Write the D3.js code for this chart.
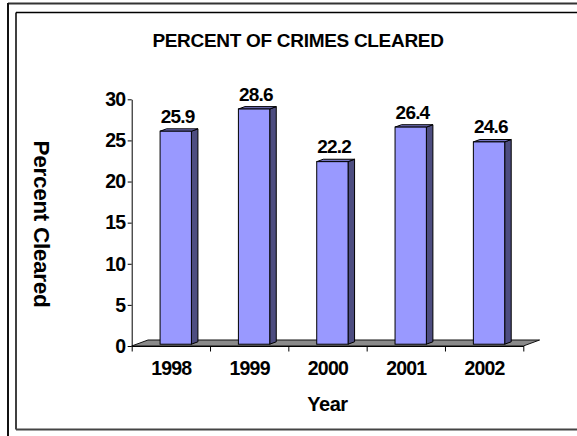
<!DOCTYPE html>
<html><head><meta charset="utf-8">
<script src="https://cdn.jsdelivr.net/npm/d3@7/dist/d3.min.js"></script>
<style>
html,body{margin:0;padding:0;background:#fff;}
svg{display:block;}
text{font-family:"Liberation Sans",Arial,sans-serif;font-weight:bold;fill:#000;}
</style></head>
<body>
<svg id="c" width="577" height="436"></svg>
<script>
const years = ["1998","1999","2000","2001","2002"];
const values = [25.9, 28.6, 22.2, 26.4, 24.6];
const yTicks = [0, 5, 10, 15, 20, 25, 30];
const titleText = "PERCENT OF CRIMES CLEARED";
const xTitle = "Year";
const yTitle = "Percent Cleared";

const svg = d3.select("#c");
const W = 577, H = 436;
const FONT = '"Liberation Sans",Arial,sans-serif';

// frames
svg.append("line").attr("x1",8).attr("y1",3.5).attr("x2",W).attr("y2",3.5).attr("stroke","#333").attr("stroke-width",2);
svg.append("line").attr("x1",8).attr("y1",3).attr("x2",8).attr("y2",H).attr("stroke","#111").attr("stroke-width",2);
svg.append("line").attr("x1",16).attr("y1",12.5).attr("x2",W).attr("y2",12.5).attr("stroke","#000").attr("stroke-width",1.5);
svg.append("line").attr("x1",16).attr("y1",12.5).attr("x2",16).attr("y2",429.5).attr("stroke","#000").attr("stroke-width",1.5);
svg.append("line").attr("x1",16).attr("y1",429.5).attr("x2",W).attr("y2",429.5).attr("stroke","#444").attr("stroke-width",2);

const x0 = 131.7, x1 = 523.3, yBase = 346, yTop = 99.3;
const depthX = 16.3, depthY = -6;

const x = d3.scaleBand().domain(years).range([x0, x1]).paddingInner(0).paddingOuter(0);
const y = d3.scaleLinear().domain([0, 30]).range([yBase, yTop]);

// floor
svg.append("path")
  .attr("d", `M${x0},${yBase}L${x1},${yBase}L${x1+depthX},${yBase+depthY}L${x0+depthX},${yBase+depthY}Z`)
  .attr("fill","#8a8a8a").attr("stroke","#111").attr("stroke-width",1);

// y axis
const yAxis = d3.axisLeft(y).tickValues(yTicks).tickSize(4).tickSizeOuter(0).tickPadding(1.5);
const gy = svg.append("g").attr("transform",`translate(${x0},0)`).call(yAxis);
gy.select(".domain").attr("stroke","#000");
gy.selectAll(".tick line").attr("stroke","#000");
gy.selectAll("text").style("font-size","19.5px").style("font-family",FONT).style("font-weight","bold")
  .style("letter-spacing","-0.8px").attr("dx","-0.8px").attr("fill","#000");

// x axis ticks at category boundaries
const xb = d3.scaleLinear().domain([0, years.length]).range([x0, x1]);
const gxt = svg.append("g").attr("transform",`translate(0,${yBase})`)
  .call(d3.axisBottom(xb).tickValues(d3.range(years.length+1)).tickSize(5.5).tickSizeOuter(0).tickFormat(""));
gxt.select(".domain").attr("stroke","#000");
gxt.selectAll(".tick line").attr("stroke","#000");

// x labels
const gx = svg.append("g").attr("transform",`translate(0,${yBase})`)
  .call(d3.axisBottom(x).tickSize(0).tickPadding(15));
gx.select(".domain").remove();
gx.selectAll("text").style("font-size","19.5px").style("font-family",FONT).style("font-weight","bold")
  .style("letter-spacing","-0.8px").attr("dx","0.4px").attr("fill","#000");

// bars (3D)
const bw = x.bandwidth() * 0.4;
const bdx = depthX * 0.4, bdy = depthY * 0.4;
const offX = depthX * 0.3, offY = depthY * 0.3;
const bars = svg.append("g").selectAll("g").data(years.map((d,i)=>({year:d, v:values[i]}))).join("g");
bars.each(function(d){
  const g = d3.select(this);
  const fx = x(d.year) + (x.bandwidth()-bw)/2 + offX;
  const fyB = y(0) + offY;
  const fyT = y(d.v) + offY;
  g.append("path").attr("d",`M${fx+bw},${fyB}L${fx+bw+bdx},${fyB+bdy}L${fx+bw+bdx},${fyT+bdy}L${fx+bw},${fyT}Z`)
    .attr("fill","#4d4d80").attr("stroke","#000").attr("stroke-width",1).attr("stroke-linejoin","round");
  g.append("path").attr("d",`M${fx},${fyT}L${fx+bdx},${fyT+bdy}L${fx+bw+bdx},${fyT+bdy}L${fx+bw},${fyT}Z`)
    .attr("fill","#7373bf").attr("stroke","#000").attr("stroke-width",1).attr("stroke-linejoin","round");
  g.append("rect").attr("x",fx).attr("y",fyT).attr("width",bw).attr("height",fyB-fyT)
    .attr("fill","#9999ff").attr("stroke","#000").attr("stroke-width",1);
  g.append("text").attr("x",fx+bw/2+1.8).attr("y",fyT-8.5).attr("text-anchor","middle")
    .style("font-size","19px").style("letter-spacing","-0.8px").text(d.v.toFixed(1));
});

// titles
svg.append("text").attr("x",298).attr("y",46.5).attr("text-anchor","middle").style("font-size","19px").style("letter-spacing","-0.3px").text(titleText);
svg.append("text").attr("x",327.5).attr("y",411).attr("text-anchor","middle").style("font-size","20px").style("letter-spacing","-0.5px").text(xTitle);
svg.append("text").attr("transform","translate(33.5,224) rotate(90)").attr("text-anchor","middle").style("font-size","22.5px").style("letter-spacing","-0.3px").text(yTitle);
</script>
</body></html>
